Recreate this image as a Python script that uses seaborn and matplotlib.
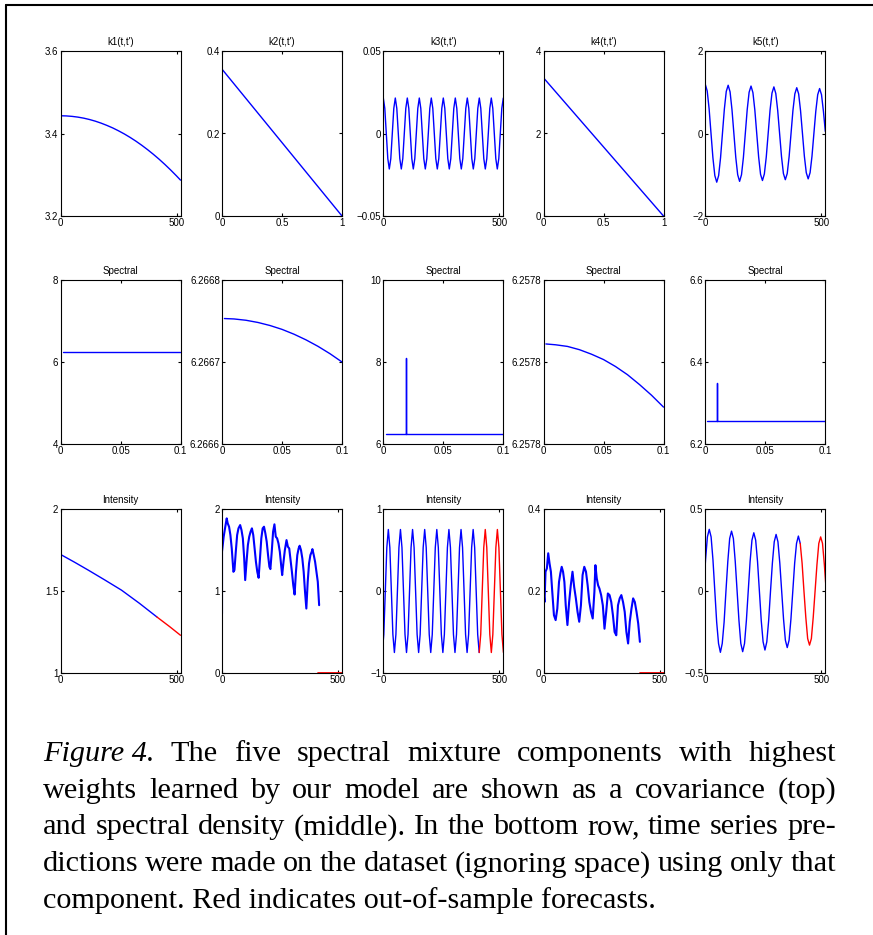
import numpy as np
import matplotlib
matplotlib.use("Agg")
import matplotlib.pyplot as plt
from matplotlib.lines import Line2D
from matplotlib.ticker import FuncFormatter
import seaborn as sns

# ---- datos ----
# fila 1: covarianzas k1..k5
k1_t = [0, 25, 50, 75, 100, 125, 150, 175, 200, 225, 250, 275, 300, 325, 350, 375,
        400, 425, 450, 475, 500, 517]
k1_v = [3.4430, 3.4426, 3.4415, 3.4397, 3.4372, 3.4339, 3.4299, 3.4251, 3.4196, 3.4135,
        3.4065, 3.3989, 3.3905, 3.3814, 3.3715, 3.3609, 3.3496, 3.3376, 3.3248, 3.3113,
        3.2971, 3.2870]

k2_t = [0, 1]
k2_v = [0.356, 0.0]

k3_t = np.linspace(0, 517, 81)
k3_v = [0.0215, 0.0152, 0, -0.0152, -0.0215, -0.0152, 0, 0.0152,
        0.0215, 0.0152, 0, -0.0152, -0.0215, -0.0152, 0, 0.0152,
        0.0215, 0.0152, 0, -0.0152, -0.0215, -0.0152, 0, 0.0152,
        0.0215, 0.0152, 0, -0.0152, -0.0215, -0.0152, 0, 0.0152,
        0.0215, 0.0152, 0, -0.0152, -0.0215, -0.0152, 0, 0.0152,
        0.0215, 0.0152, 0, -0.0152, -0.0215, -0.0152, 0, 0.0152,
        0.0215, 0.0152, 0, -0.0152, -0.0215, -0.0152, 0, 0.0152,
        0.0215, 0.0152, 0, -0.0152, -0.0215, -0.0152, 0, 0.0152,
        0.0215, 0.0152, 0, -0.0152, -0.0215, -0.0152, 0, 0.0152,
        0.0215, 0.0152, 0, -0.0152, -0.0215, -0.0152, 0, 0.0152,
        0.0215]

k4_t = [0, 1]
k4_v = [3.35, 0.0]

k5_t = np.linspace(0, 517.1, 64)
k5_v = [1.19, 1.03, 0.60, 0.00, -0.59, -1.02, -1.18, -1.02, -0.59, 0.00, 0.59, 1.02,
        1.17, 1.01, 0.58, 0.00, -0.58, -1.00, -1.16, -1.00, -0.58, 0.00, 0.58, 1.00,
        1.15, 0.99, 0.57, 0.00, -0.57, -0.99, -1.14, -0.98, -0.57, 0.00, 0.57, 0.98,
        1.13, 0.97, 0.56, 0.00, -0.56, -0.97, -1.12, -0.97, -0.56, 0.00, 0.56, 0.96,
        1.11, 0.96, 0.55, 0.00, -0.55, -0.95, -1.10, -0.95, -0.55, 0.00, 0.54, 0.94,
        1.09, 0.94, 0.54, 0.05]

# fila 2: densidades espectrales
s1_f = [0.002, 0.05, 0.1]
s1_v = [6.25, 6.25, 6.25]

s2_f = [0.002, 0.01, 0.02, 0.03, 0.04, 0.05, 0.06, 0.07, 0.08, 0.09, 0.1]
s2_v = [6.2667530, 6.2667525, 6.2667509, 6.2667482, 6.2667445, 6.2667398,
        6.2667339, 6.2667270, 6.2667191, 6.2667101, 6.2667000]

s3_f = [0.002, 0.0188, 0.0188, 0.0188, 0.1]
s3_v = [6.25, 6.25, 8.09, 6.25, 6.25]

s4_f = [0.002, 0.01, 0.02, 0.03, 0.04, 0.05, 0.06, 0.07, 0.08, 0.09, 0.1]
s4_v = [6.2578044, 6.2578042, 6.2578038, 6.2578030, 6.2578019, 6.2578006,
        6.2577989, 6.2577969, 6.2577945, 6.2577919, 6.2577890]

s5_f = [0.0017, 0.0101, 0.0101, 0.0101, 0.1]
s5_v = [6.256, 6.256, 6.35, 6.256, 6.256]

# fila 3: intensidad (azul = ajuste, rojo = pronostico)
i1_t = [0, 60, 120, 190, 263, 340, 415]
i1_v = [1.723, 1.676, 1.627, 1.568, 1.505, 1.425, 1.342]
i1_ft = [415, 470, 517]
i1_fv = [1.342, 1.283, 1.230]

i2_t = [0, 0, 7.2, 13.0, 20.3, 24.6, 30.4, 36.2, 42.0, 49.2,
        53.6, 59.4, 65.2, 71.0, 78.2, 84.0, 89.8, 95.6, 99.9, 105.7,
        111.5, 117.3, 123.1, 128.9, 134.7, 140.5, 146.2, 152.0, 157.8, 163.6,
        169.4, 175.2, 181.0, 186.8, 192.6, 198.4, 204.2, 208.5, 214.3, 220.1,
        225.9, 231.7, 237.5, 243.3, 249.1, 254.8, 259.2, 265.0, 270.8, 278.0,
        283.8, 289.6, 295.4, 301.2, 307.0, 312.8, 318.6, 324.4, 330.1, 334.5,
        340.3, 346.1, 351.9, 357.7, 363.4, 369.2, 375.0, 380.8, 386.6, 389.5,
        395.3, 401.1, 406.9, 412.7, 418.5]
i2_v = [0.725, 1.479, 1.662, 1.764, 1.886, 1.825, 1.784, 1.682, 1.519, 1.234,
        1.255, 1.479, 1.682, 1.764, 1.804, 1.743, 1.642, 1.397, 1.133, 1.356,
        1.560, 1.662, 1.723, 1.764, 1.682, 1.519, 1.356, 1.234, 1.161, 1.397,
        1.642, 1.764, 1.784, 1.703, 1.601, 1.438, 1.295, 1.267, 1.479, 1.723,
        1.813, 1.662, 1.642, 1.580, 1.479, 1.316, 1.194, 1.356, 1.499, 1.621,
        1.540, 1.519, 1.377, 1.234, 1.071, 0.957, 1.234, 1.438, 1.519, 1.552,
        1.499, 1.397, 1.234, 0.990, 0.786, 1.112, 1.336, 1.438, 1.479, 1.511,
        1.438, 1.356, 1.234, 1.112, 0.827]
i2_ft = [415, 517]
i2_fv = [0.0, 0.0]

i3_t = np.linspace(-4.4, 517.6, 81)
i3_v = [-0.75, -0.53, 0, 0.53, 0.75, 0.53, 0, -0.53,
        -0.75, -0.53, 0, 0.53, 0.75, 0.53, 0, -0.53,
        -0.75, -0.53, 0, 0.53, 0.75, 0.53, 0, -0.53,
        -0.75, -0.53, 0, 0.53, 0.75, 0.53, 0, -0.53,
        -0.75, -0.53, 0, 0.53, 0.75, 0.53, 0, -0.53,
        -0.75, -0.53, 0, 0.53, 0.75, 0.53, 0, -0.53,
        -0.75, -0.53, 0, 0.53, 0.75, 0.53, 0, -0.53,
        -0.75, -0.53, 0, 0.53, 0.75, 0.53, 0, -0.53,
        -0.75, -0.53, 0, 0.53, 0.75, 0.53, 0, -0.53,
        -0.75, -0.53, 0, 0.53, 0.75, 0.53, 0, -0.53,
        -0.75]
i3_split = 64

i4_t = [0, 0, 4.4, 8.7, 14.5, 20.3, 26.1, 31.9, 37.8, 45.0,
        52.3, 59.5, 66.8, 72.6, 78.4, 84.2, 90.0, 95.8, 103.1, 110.4,
        117.6, 124.9, 132.1, 139.4, 146.7, 153.9, 161.2, 168.4, 175.7, 183.0,
        190.2, 197.5, 204.7, 212.0, 219.3, 223.6, 229.4, 235.2, 241.0, 248.3,
        255.6, 262.8, 270.1, 277.3, 284.6, 291.9, 299.1, 306.4, 313.6, 320.9,
        328.2, 335.4, 342.7, 349.9, 357.2, 364.5, 371.7, 379.0, 386.2, 393.5,
        400.8, 408.0, 415.3]
i4_v = [0.055, 0.198, 0.173, 0.247, 0.255, 0.292, 0.267, 0.247, 0.198, 0.141,
        0.129, 0.157, 0.222, 0.243, 0.259, 0.247, 0.222, 0.165, 0.117, 0.173,
        0.214, 0.247, 0.210, 0.182, 0.149, 0.125, 0.165, 0.239, 0.259, 0.247,
        0.214, 0.173, 0.149, 0.133, 0.198, 0.263, 0.231, 0.214, 0.206, 0.190,
        0.165, 0.108, 0.149, 0.194, 0.190, 0.173, 0.141, 0.100, 0.092, 0.165,
        0.182, 0.190, 0.173, 0.149, 0.100, 0.072, 0.125, 0.157, 0.182, 0.173,
        0.149, 0.121, 0.076]
i4_ft = [415, 517]
i4_fv = [0.0, 0.0]

i5_t = np.linspace(-7, 521, 67)
i5_v = [0.00, 0.19, 0.33, 0.376, 0.33, 0.19, 0.00, -0.19, -0.32, -0.374, -0.32, -0.19,
        0.00, 0.18, 0.32, 0.365, 0.32, 0.18, 0.00, -0.18, -0.32, -0.37, -0.32, -0.18,
        0.00, 0.18, 0.31, 0.355, 0.31, 0.18, 0.00, -0.18, -0.31, -0.36, -0.31, -0.18,
        0.00, 0.17, 0.30, 0.345, 0.30, 0.17, 0.00, -0.17, -0.30, -0.345, -0.30, -0.17,
        0.00, 0.17, 0.29, 0.335, 0.29, 0.17, 0.00, -0.16, -0.29, -0.33, -0.29, -0.16,
        0.00, 0.16, 0.29, 0.33, 0.29, 0.16, 0.00]
i5_split = 52

titulos_k = ["k1(t,t')", "k2(t,t')", "k3(t,t')", "k4(t,t')", "k5(t,t')"]

caption_lines = [
    ["Figure 4.", "The", "five", "spectral", "mixture", "components", "with", "highest"],
    ["weights", "learned", "by", "our", "model", "are", "shown", "as", "a", "covariance", "(top)"],
    ["and", "spectral", "density", "(middle).", "In", "the", "bottom", "row,", "time", "series", "pre-"],
    ["dictions", "were", "made", "on", "the", "dataset", "(ignoring", "space)", "using", "only", "that"],
]
caption_last = "component. Red indicates out-of-sample forecasts."

# ---- estilo tipo MATLAB ----
sns.set_theme(style="ticks")
plt.rcParams.update({
    'font.size': 7, 'axes.titlesize': 7, 'xtick.labelsize': 7, 'ytick.labelsize': 7,
    'axes.linewidth': 0.8, 'axes.edgecolor': 'black',
    'xtick.direction': 'in', 'ytick.direction': 'in',
    'xtick.top': True, 'ytick.right': True,
    'xtick.major.size': 2.5, 'ytick.major.size': 2.5,
    'xtick.major.width': 0.8, 'ytick.major.width': 0.8,
    'xtick.major.pad': 1.5, 'ytick.major.pad': 1.5,
    'xtick.color': 'black', 'ytick.color': 'black',
    'text.color': 'black', 'axes.titlepad': 4,
})
plt.rcParams['font.family'] = ['Liberation Sans', 'DejaVu Sans']

W, H = 873, 935
fig = plt.figure(figsize=(W / 100, H / 100), dpi=100)

col_left = [60.5, 222, 383.3, 543.5, 705.3]
row_tb = [(51, 216), (280, 444), (509, 673)]


def make_ax(r, c):
    top, bot = row_tb[r]
    return fig.add_axes([col_left[c] / W, 1 - bot / H, 120 / W, (bot - top) / H])


def draw(ax, x, y, color='blue', lw=1.0):
    sns.lineplot(x=np.asarray(x, dtype=float), y=np.asarray(y, dtype=float), ax=ax,
                 color=color, lw=lw, estimator=None, sort=False, legend=False)


def setup(ax, title, xlim, ylim, xticks, yticks, yfmt=None):
    ax.set_xlim(*xlim)
    ax.set_ylim(*ylim)
    ax.set_xticks(xticks)
    ax.set_yticks(yticks)
    ax.xaxis.set_major_formatter(FuncFormatter(lambda v, p: f"{v:g}".replace('-', '\u2212')))
    if yfmt is None:
        ax.yaxis.set_major_formatter(FuncFormatter(lambda v, p: f"{v:g}".replace('-', '\u2212')))
    else:
        ax.yaxis.set_major_formatter(FuncFormatter(lambda v, p: yfmt % v))
    ax.set_xlabel('')
    ax.set_ylabel('')
    ax.set_title(title)
    for s in ax.spines.values():
        s.set_visible(True)


T = (0, 517)
F = (0, 0.1)
ft = [0, 0.05, 0.1]

# fila 1
ax = make_ax(0, 0); draw(ax, k1_t, k1_v)
setup(ax, titulos_k[0], T, (3.2, 3.6), [0, 500], [3.2, 3.4, 3.6])
ax = make_ax(0, 1); draw(ax, k2_t, k2_v)
setup(ax, titulos_k[1], (0, 1), (0, 0.4), [0, 0.5, 1], [0, 0.2, 0.4])
ax = make_ax(0, 2); draw(ax, k3_t, k3_v)
setup(ax, titulos_k[2], T, (-0.05, 0.05), [0, 500], [-0.05, 0, 0.05])
ax = make_ax(0, 3); draw(ax, k4_t, k4_v)
setup(ax, titulos_k[3], (0, 1), (0, 4), [0, 0.5, 1], [0, 2, 4])
ax = make_ax(0, 4); draw(ax, k5_t, k5_v)
setup(ax, titulos_k[4], T, (-2, 2), [0, 500], [-2, 0, 2])

# fila 2
ax = make_ax(1, 0); draw(ax, s1_f, s1_v)
setup(ax, "Spectral", F, (4, 8), ft, [4, 6, 8])
ax = make_ax(1, 1); draw(ax, s2_f, s2_v)
setup(ax, "Spectral", F, (6.2666, 6.2668), ft, [6.2666, 6.2667, 6.2668], "%.4f")
ax = make_ax(1, 2); draw(ax, s3_f, s3_v)
setup(ax, "Spectral", F, (6, 10), ft, [6, 8, 10])
ax = make_ax(1, 3); draw(ax, s4_f, s4_v)
setup(ax, "Spectral", F, (6.25778, 6.25782), ft, [6.25778, 6.2578, 6.25782], "%.4f")
ax = make_ax(1, 4); draw(ax, s5_f, s5_v)
setup(ax, "Spectral", F, (6.2, 6.6), ft, [6.2, 6.4, 6.6])

# fila 3
ax = make_ax(2, 0); draw(ax, i1_t, i1_v); draw(ax, i1_ft, i1_fv, 'red')
setup(ax, "Intensity", T, (1, 2), [0, 500], [1, 1.5, 2])
ax = make_ax(2, 1); draw(ax, i2_t, i2_v, lw=1.5); draw(ax, i2_ft, i2_fv, 'red', lw=1.3)
setup(ax, "Intensity", T, (0, 2), [0, 500], [0, 1, 2])
ax = make_ax(2, 2)
draw(ax, i3_t[:i3_split + 1], i3_v[:i3_split + 1]); draw(ax, i3_t[i3_split:], i3_v[i3_split:], 'red')
setup(ax, "Intensity", T, (-1, 1), [0, 500], [-1, 0, 1])
ax = make_ax(2, 3); draw(ax, i4_t, i4_v, lw=1.5); draw(ax, i4_ft, i4_fv, 'red', lw=1.3)
setup(ax, "Intensity", T, (0, 0.4), [0, 500], [0, 0.2, 0.4])
ax = make_ax(2, 4)
draw(ax, i5_t[:i5_split + 1], i5_v[:i5_split + 1]); draw(ax, i5_t[i5_split:], i5_v[i5_split:], 'red')
setup(ax, "Intensity", T, (-0.5, 0.5), [0, 500], [-0.5, 0, 0.5])

# marco de la pagina (izquierda y arriba)
fig.add_artist(Line2D([6 / W, 6 / W], [0, 1 - 5 / H], transform=fig.transFigure, color='black', lw=1.5))
fig.add_artist(Line2D([6 / W, 1], [1 - 5 / H, 1 - 5 / H], transform=fig.transFigure, color='black', lw=1.5))

# ---- pie de figura justificado ----
serif = ['Liberation Serif', 'DejaVu Serif']
fig.canvas.draw()
renderer = fig.canvas.get_renderer()


def ancho(txt, style, size):
    t = fig.text(0, 0, txt, fontsize=size, family=serif, style=style)
    w = t.get_window_extent(renderer).width
    t.remove()
    return w


x0, x1 = 43, 836
size = 20 * 613 / ancho(caption_last, 'normal', 20)
bases = [761, 797.7, 834.5, 871.3, 908]

for linea, base in zip(caption_lines, bases):
    estilos = ['italic' if (i == 0 and w.startswith('Figure')) else 'normal' for i, w in enumerate(linea)]
    anchos = [ancho(w, s, size) for w, s in zip(linea, estilos)]
    hueco = (x1 - x0 - sum(anchos)) / (len(linea) - 1)
    x = x0
    for w, s, a in zip(linea, estilos, anchos):
        fig.text(x / W, 1 - base / H, w, fontsize=size, family=serif, style=s,
                 ha='left', va='baseline')
        x += a + hueco

fig.text(x0 / W, 1 - bases[4] / H, caption_last, fontsize=size, family=serif,
         ha='left', va='baseline')

fig.savefig("out.png", dpi=100)
